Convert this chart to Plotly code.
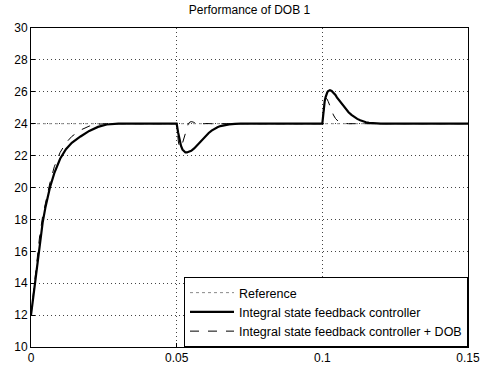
import plotly.graph_objects as go

# Reference signal
t_ref = [0.0, 0.15]
y_ref = [24.0, 24.0]

# Integral state feedback controller
t_isf = [0.0, 0.001, 0.002, 0.003, 0.004, 0.005, 0.0065, 0.008, 0.010, 0.012, 0.014, 0.017, 0.020, 0.023, 0.026, 0.030,
         0.050, 0.0505, 0.051, 0.0515, 0.052, 0.0525, 0.053, 0.0535, 0.054, 0.055, 0.056, 0.057, 0.058, 0.059,
         0.060, 0.061, 0.062, 0.063, 0.064, 0.065, 0.066, 0.068, 0.070, 0.072,
         0.100, 0.1002, 0.1004, 0.1006, 0.1008, 0.1011, 0.1014, 0.1017, 0.102, 0.1026, 0.1032, 0.1038, 0.1045,
         0.105, 0.106, 0.107, 0.108, 0.109, 0.110, 0.111, 0.112, 0.113, 0.114, 0.115, 0.116, 0.118, 0.120, 0.150]
y_isf = [12.0, 13.5, 15.0, 16.6, 17.8, 18.8, 20.0, 20.9, 21.8, 22.4, 22.8, 23.2, 23.55, 23.8, 23.95, 24.0,
         24.0, 23.45, 22.95, 22.6, 22.38, 22.25, 22.2, 22.2, 22.22, 22.3, 22.45, 22.65, 22.85, 23.05,
         23.25, 23.42, 23.57, 23.69, 23.78, 23.85, 23.9, 23.96, 23.99, 24.0,
         24.0, 24.45, 24.85, 25.15, 25.4, 25.65, 25.85, 25.97, 26.05, 26.1, 26.05, 25.95, 25.8,
         25.65, 25.4, 25.15, 24.92, 24.72, 24.55, 24.41, 24.3, 24.21, 24.14, 24.09, 24.05, 24.02, 24.0, 24.0]

# Integral state feedback controller + DOB
t_dob = [0.0, 0.001, 0.002, 0.003, 0.004, 0.005, 0.0065, 0.008, 0.010, 0.012, 0.014, 0.017, 0.020, 0.023, 0.026,
         0.050, 0.0503, 0.0506, 0.051, 0.0513, 0.0517, 0.052, 0.0525, 0.053, 0.0535, 0.054, 0.0545, 0.055,
         0.0557, 0.0565, 0.0575, 0.058, 0.059, 0.060, 0.062,
         0.100, 0.1002, 0.1004, 0.1006, 0.1008, 0.101, 0.1013, 0.1016, 0.102, 0.1024, 0.1028, 0.1033, 0.1038,
         0.1045, 0.105, 0.1055, 0.106, 0.107, 0.108, 0.109, 0.150]
y_dob = [12.0, 13.8, 15.5, 17.0, 18.2, 19.1, 20.3, 21.3, 22.2, 22.8, 23.2, 23.6, 23.85, 23.97, 24.0,
         24.0, 23.4, 22.85, 22.55, 22.5, 22.6, 22.8, 23.15, 23.5, 23.8, 24.0, 24.1, 24.13,
         24.1, 24.03, 23.97, 23.96, 23.99, 24.01, 24.0,
         24.0, 24.45, 24.85, 25.2, 25.42, 25.55, 25.6, 25.55, 25.4, 25.2, 25.0, 24.75, 24.55,
         24.33, 24.22, 24.14, 24.08, 24.03, 24.01, 24.0, 24.0]

x_ticks = [0, 0.05, 0.1, 0.15]
x_tick_labels = ["0", "0.05", "0.1", "0.15"]
y_ticks = [10, 12, 14, 16, 18, 20, 22, 24, 26, 28, 30]

FONT = "Liberation Sans, Arial"

fig = go.Figure()
fig.add_trace(go.Scatter(x=t_ref, y=y_ref, mode="lines", name="Reference",
                         line=dict(color="#8a8a8a", width=1, dash="dot")))
fig.add_trace(go.Scatter(x=t_isf, y=y_isf, mode="lines", name="Integral state feedback controller",
                         line=dict(color="black", width=2.2)))
fig.add_trace(go.Scatter(x=t_dob, y=y_dob, mode="lines", name="Integral state feedback controller + DOB",
                         line=dict(color="black", width=1, dash="dash")))

axis_common = dict(showline=True, linecolor="black", linewidth=1, mirror=True,
                   showgrid=True, gridcolor="#444444", gridwidth=1, griddash="1px,3px",
                   zeroline=False, ticks="inside", ticklen=4, tickcolor="black",
                   automargin=False, ticklabeloverflow="allow",
                   tickfont=dict(family=FONT, size=12, color="black"))

fig.update_layout(
    width=480, height=367,
    margin=dict(l=31, r=12, t=28, b=20),
    paper_bgcolor="white", plot_bgcolor="white",
    title=dict(text="Performance of DOB 1", xref="paper", x=0.5, xanchor="center",
               yref="container", y=0.972, yanchor="middle", automargin=False,
               font=dict(family=FONT, size=12, color="black")),
    xaxis=dict(range=[0, 0.15], tickvals=x_ticks, ticktext=x_tick_labels, **axis_common),
    yaxis=dict(range=[10, 30], tickvals=y_ticks, **axis_common),
    legend=dict(x=1, y=0, xanchor="right", yanchor="bottom", bgcolor="white",
                bordercolor="black", borderwidth=1, tracegroupgap=0,
                font=dict(family=FONT, size=12.5, color="black"),
                itemwidth=44),
    showlegend=True,
)

fig.write_html("out.html", config={"displayModeBar": False},
               post_script="document.body.style.margin='0';document.body.style.padding='0';")
